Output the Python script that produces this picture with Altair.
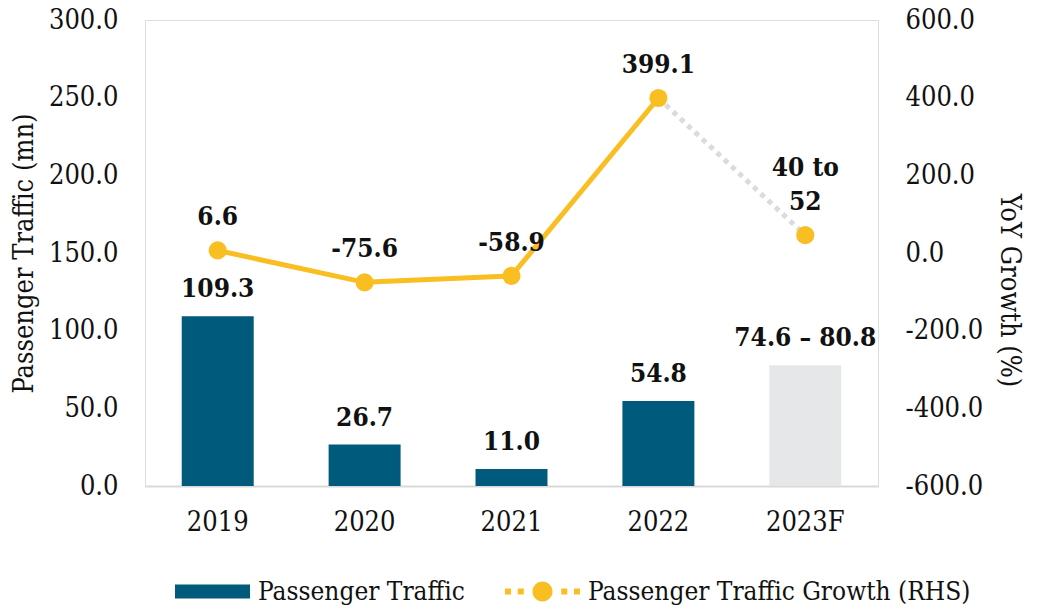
import altair as alt
import pandas as pd

years = ["2019", "2020", "2021", "2022", "2023F"]
traffic = [109.3, 26.7, 11.0, 54.8, 77.7]
traffic_labels = ["109.3", "26.7", "11.0", "54.8", "74.6 – 80.8"]
growth = [6.6, -75.6, -58.9, 399.1, 46.0]
growth_labels = ["6.6", "-75.6", "-58.9", "399.1", "40 to\n52"]
kind = ["actual", "actual", "actual", "actual", "forecast"]
bar_series = ["Passenger Traffic"]
line_series = ["Passenger Traffic Growth (RHS)"]
left_ticks = [0, 50, 100, 150, 200, 250, 300]
right_ticks = [-600, -400, -200, 0, 200, 400, 600]

FONT = "DejaVu Serif Condensed, DejaVu Serif"
TEAL = "#005A7B"
GREY_BAR = "#E6E7E8"
YELLOW = "#F9BE21"
GREY_DOT = "#DADBDC"
INK = "#111111"

df = pd.DataFrame({
    "year": years,
    "traffic": traffic,
    "traffic_label": traffic_labels,
    "growth": growth,
    "growth_label": growth_labels,
    "kind": kind,
    "bseries": bar_series * len(years),
    "lseries": line_series * len(years),
})

base = alt.Chart(df)
x = alt.X("year:N", sort=years, title=None,
          scale=alt.Scale(paddingInner=0.51, paddingOuter=0.25),
          axis=alt.Axis(labelAngle=0, labelFont=FONT, labelFontSize=27, labelColor=INK,
                        labelPadding=23, ticks=False, domainColor="#D9D9D9", domainWidth=2))

yl_scale = alt.Scale(domain=[0, 300], nice=False)
yl_axis = alt.Axis(values=left_ticks, format=".1f", grid=False, domain=False, ticks=False,
                   labelFont=FONT, labelFontSize=27, labelColor=INK, labelPadding=27,
                   title="Passenger Traffic (mn)", titleFont=FONT, titleFontSize=27,
                   titleFontWeight="normal", titleColor=INK, titlePadding=10)

bar_path = "M-1,-0.187h2v0.374h-2z"
dot_path = ("M-1,-0.08h0.16v0.16h-0.16z M-0.66,-0.08h0.16v0.16h-0.16z "
            "M0.5,-0.08h0.16v0.16h-0.16z M0.84,-0.08h0.16v0.16h-0.16z "
            "M-0.267,0a0.267,0.267 0 1,0 0.534,0a0.267,0.267 0 1,0 -0.534,0z")

legend_common = dict(title=None, orient="none", symbolSize=5625, symbolStrokeWidth=0,
                     symbolOpacity=1, labelFont=FONT, labelFontSize=26, labelColor=INK,
                     labelOffset=8, labelLimit=0, padding=0)

bars_actual = base.transform_filter(alt.datum.kind == "actual").mark_bar().encode(
    x=x,
    y=alt.Y("traffic:Q", scale=yl_scale, axis=yl_axis),
    color=alt.Color("bseries:N", scale=alt.Scale(domain=bar_series, range=[TEAL]),
                    legend=alt.Legend(legendX=30, legendY=534, symbolType=bar_path,
                                      **legend_common)),
)
bars_fc = base.transform_filter(alt.datum.kind == "forecast").mark_bar(color=GREY_BAR).encode(
    x=x, y=alt.Y("traffic:Q", scale=yl_scale, axis=yl_axis),
)
bar_text = base.mark_text(baseline="bottom", dy=-14, font=FONT, fontSize=26,
                          fontWeight="bold", color=INK).encode(
    x=x, y=alt.Y("traffic:Q", scale=yl_scale, axis=yl_axis), text="traffic_label:N",
)
bars = alt.layer(bars_actual, bars_fc, bar_text)

yr_scale = alt.Scale(domain=[-600, 600], nice=False)
yr_axis = alt.Axis(orient="right", values=right_ticks, grid=False, domain=False,
                   labelExpr="datum.value < 0 ? '-' + format(-datum.value, '.1f') : format(datum.value, '.1f')",
                   ticks=False, labelFont=FONT, labelFontSize=27, labelColor=INK, labelPadding=27,
                   title="YoY Growth (%)", titleFont=FONT, titleFontSize=27,
                   titleFontWeight="normal", titleColor=INK, titlePadding=12, titleY=270)
yr = alt.Y("growth:Q", scale=yr_scale, axis=yr_axis)

dotted = base.transform_filter(alt.FieldOneOfPredicate(field="year", oneOf=years[3:])).mark_line(
    color=GREY_DOT, strokeWidth=5, strokeDash=[5, 5], strokeCap="butt").encode(x=x, y=yr)
solid = base.transform_filter(alt.datum.kind == "actual").mark_line(
    color=YELLOW, strokeWidth=5).encode(x=x, y=yr)
points = base.mark_circle(size=330, opacity=1).encode(
    x=x, y=yr,
    color=alt.Color("lseries:N", scale=alt.Scale(domain=line_series, range=[YELLOW]),
                    legend=alt.Legend(legendX=360, legendY=534, symbolType=dot_path,
                                      **legend_common)),
)
label_style = dict(baseline="bottom", font=FONT, fontSize=26, fontWeight="bold",
                   color=INK, lineBreak="\n", lineHeight=34)
line_text_single = base.transform_filter(
    "indexof(datum.growth_label, '\\n') < 0").mark_text(dy=-20, **label_style).encode(
    x=x, y=yr, text="growth_label:N")
line_text_multi = base.transform_filter(
    "indexof(datum.growth_label, '\\n') >= 0").mark_text(dy=-54, **label_style).encode(
    x=x, y=yr, text="growth_label:N")
line = alt.layer(dotted, solid, points, line_text_single, line_text_multi)

chart = alt.layer(bars, line).resolve_scale(y="independent", color="independent").properties(
    width=733, height=466,
    autosize=alt.AutoSizeParams(type="none"),
    padding={"left": 137, "top": 12, "right": 153, "bottom": 125},
).configure_view(stroke=None).configure(background="white")

chart.save("out.html", embed_options={"renderer": "svg", "actions": False})
